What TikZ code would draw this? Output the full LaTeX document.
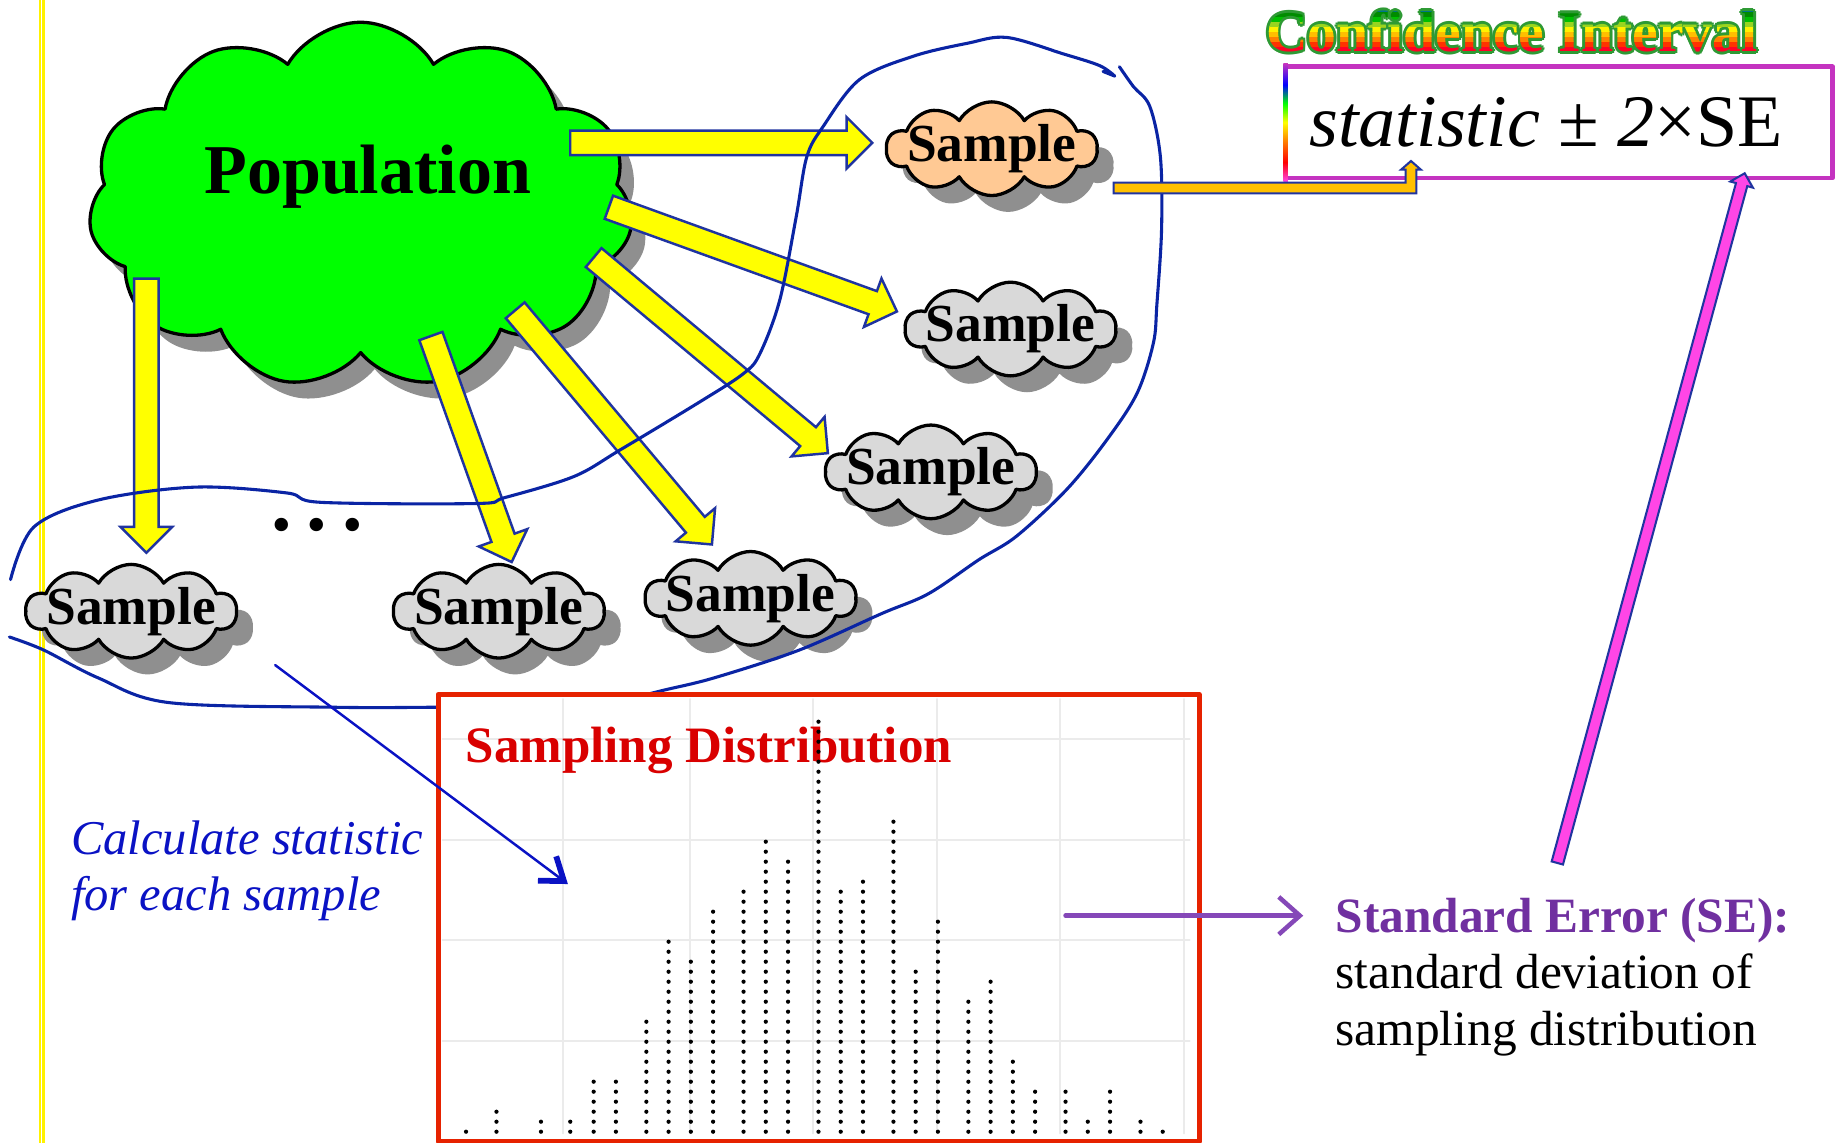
\documentclass[tikz,border=0pt]{standalone}
\usepackage{fontspec}
\setmainfont{Liberation Serif}
\usepackage{tikz}
\usetikzlibrary{arrows.meta,calc,shadows,shapes.symbols}
\definecolor{popGreen}{HTML}{00FF00}
\definecolor{sampleGray}{HTML}{D9D9D9}
\definecolor{samplePeach}{HTML}{FFC994}
\definecolor{cloudShadow}{HTML}{8F8F8F}
\definecolor{arrowYellow}{HTML}{FFFF00}
\definecolor{arrowEdge}{HTML}{2034A0}
\definecolor{loopBlue}{HTML}{0A24A4}
\definecolor{boxRed}{HTML}{E62200}
\definecolor{titleRed}{HTML}{D90000}
\definecolor{noteBlue}{HTML}{0A12C4}
\definecolor{sePurple}{HTML}{7030A0}
\definecolor{seArrow}{HTML}{8548B8}
\definecolor{ciMagenta}{HTML}{C433C0}
\definecolor{ciPink}{HTML}{FF46E6}
\definecolor{ciGold}{HTML}{FFC000}
\definecolor{ciGreen}{HTML}{2E9A34}
\definecolor{gridGray}{HTML}{EBEBEB}

\newcommand\popFont{\fontsize{17}{20}\selectfont\bfseries}
\newcommand\sampleFont{\fontsize{13}{15}\selectfont\bfseries}
\newcommand\ciFont{\fontsize{14}{16}\selectfont\bfseries}

% rainbow for the left edge of the interval box
\pgfdeclareverticalshading{edgeRainbow}{100bp}{color(0bp)=(ciPink); color(25bp)=(ciPink); color(33bp)=(red); color(42bp)=(orange); color(50bp)=(yellow); color(58bp)=(green); color(66bp)=(blue); color(75bp)=(ciMagenta); color(100bp)=(ciMagenta)}

\tikzset{
  sd diagram/.style={x=1cm, y=-1cm, line cap=round, line join=round},
  sd cloud/.style={cloud, cloud ignores aspect, draw=black, line width=0.8pt, inner sep=0pt},
  sd pop/.style={sd cloud, cloud puffs=11, cloud puff arc=120, fill=popGreen,
    minimum width=4.65cm, minimum height=3.13cm,
    drop shadow={shadow xshift=0.12cm, shadow yshift=-0.14cm, fill=cloudShadow, opacity=1}},
  sd sample/.style={sd cloud, cloud puffs=10, cloud puff arc=120, fill=sampleGray,
    minimum width=1.80cm, minimum height=0.80cm, font=\sampleFont,
    drop shadow={shadow xshift=0.14cm, shadow yshift=-0.14cm, fill=cloudShadow, opacity=1}},
  sd key sample/.style={sd sample, fill=samplePeach},
  block arrow/.style n args={3}{to path={
    let \p1=($(\tikztotarget)-(\tikztostart)$), \n1={atan2(\y1,\x1)} in
    ($(\tikztostart)+(\n1+90:#1)$)
    -- ($(\tikztotarget)+(\n1+180:#3)+(\n1+90:#1)$)
    -- ($(\tikztotarget)+(\n1+180:#3)+(\n1+90:#2)$)
    -- (\tikztotarget)
    -- ($(\tikztotarget)+(\n1+180:#3)+(\n1-90:#2)$)
    -- ($(\tikztotarget)+(\n1+180:#3)+(\n1-90:#1)$)
    -- ($(\tikztostart)+(\n1-90:#1)$) -- cycle}},
  sd block/.style={block arrow={0.105cm}{0.22cm}{0.22cm}, draw=arrowEdge,
    fill=arrowYellow, line width=0.6pt, line join=miter},
  sd se block/.style={block arrow={0.05cm}{0.10cm}{0.10cm}, draw=arrowEdge,
    fill=ciPink, line width=0.5pt, line join=miter},
  sd bent/.style={draw=arrowEdge, fill=ciGold, line width=0.5pt, line join=miter},
  sd loop/.style={draw=loopBlue, line width=0.75pt},
  sd grid/.style={draw=gridGray, line width=0.5pt},
  sd title/.style={font=\ciFont, text=ciGreen, inner sep=0pt}
}

\begin{document}
\begin{tikzpicture}[sd diagram]
\useasboundingbox (0,0) rectangle (15.68,9.76);
\draw[yellow, line width=0.55pt, double=white, double distance=0.35pt] (0.355,0) -- (0.355,9.76);

% population and the samples drawn from it
\node[sd pop] (pop) at (3.08,1.755) {};
\node[font=\popFont, inner sep=0pt] (poptitle) at (3.14,1.51) {Population};

\coordinate (t1) at (4.87,1.22); \coordinate (h1) at (7.45,1.22);
\coordinate (t2) at (5.20,1.77); \coordinate (h2) at (7.66,2.66);
\coordinate (t3) at (5.07,2.20); \coordinate (h3) at (7.07,3.87);
\coordinate (t4) at (4.40,2.65); \coordinate (h4) at (6.08,4.65);
\coordinate (t5) at (3.68,2.87); \coordinate (h5) at (4.37,4.80);
\coordinate (t6) at (1.25,2.38); \coordinate (h6) at (1.25,4.72);
\foreach \t/\h in {t1/h1,t2/h2,t3/h3,t4/h4,t5/h5,t6/h6}
  \draw[sd block] (\t) to (\h);

\node[sd key sample] (s1) at (8.47,1.27) {\makebox[0pt]{Sample}};
\node[sd sample] (s2) at (8.63,2.81) {\makebox[0pt]{Sample}};
\node[sd sample] (s3) at (7.95,4.03) {\makebox[0pt]{Sample}};
\node[sd sample] (s4) at (6.41,5.11) {\makebox[0pt]{Sample}};
\node[sd sample] (s5) at (4.26,5.22) {\makebox[0pt]{Sample}};
\node[sd sample] (s6) at (1.12,5.22) {\makebox[0pt]{Sample}};
\node[font=\fontsize{20}{22}\selectfont\bfseries] (more) at (2.71,4.48) {.\hspace{0.18em}.\hspace{0.18em}.};

% hand drawn loop round the samples
\draw[sd loop] plot[smooth, tension=0.55] coordinates {(9.56,0.57) (9.68,0.74) (9.82,0.91)
  (9.91,1.34) (9.92,1.96) (9.88,2.60) (9.85,2.93) (9.71,3.36) (9.45,3.76) (9.11,4.18)
  (8.68,4.58) (8.36,4.78) (7.93,5.07) (7.53,5.24) (6.83,5.55) (6.13,5.78) (5.73,5.88)
  (5.20,5.99) (4.40,6.03) (3.70,6.04) (2.85,6.04) (1.44,6.00) (0.84,5.79) (0.37,5.55) (0.08,5.44)};
\draw[sd loop] plot[smooth, tension=0.55] coordinates {(0.09,4.95) (0.29,4.50) (0.84,4.27)
  (1.67,4.16) (2.45,4.21) (2.74,4.29) (4.07,4.30) (4.31,4.25) (4.90,4.07) (5.30,3.84)
  (5.98,3.43) (6.35,3.19) (6.49,3.02) (6.66,2.56) (6.80,1.85) (6.89,1.34) (7.03,1.08)
  (7.34,0.68) (7.80,0.48) (8.26,0.37) (8.60,0.32) (9.08,0.46) (9.39,0.56) (9.52,0.65)} -- (9.42,0.61);

% dot plot of the statistics
\node[draw=boxRed, line width=1.2pt, fill=white, minimum width=6.50cm, minimum height=3.82cm,
  inner sep=0pt, anchor=north west] (dist) at (3.72,5.91) {};
\foreach \x in {4.81,5.89,6.94,8.00,9.05,10.11}
  \draw[sd grid] (\x,5.97) -- (\x,9.68);
\foreach \y in {6.31,7.17,8.03,8.89}
  \draw[sd grid] (3.78,\y) -- (10.16,\y);
\node[font=\fontsize{12.4}{15}\selectfont\bfseries, text=titleRed, anchor=base west, inner sep=0pt]
  (disttitle) at (3.97,6.51) {Sampling Distribution};
\foreach \x/\n in {3.98/1,4.24/3,4.62/2,4.87/2,5.07/6,5.26/6,5.52/12,5.71/20,5.90/18,6.09/23,
    6.35/25,6.54/30,6.73/28,6.99/42,7.18/25,7.37/26,7.63/32,7.82/17,8.01/22,8.27/14,8.46/16,
    8.65/8,8.84/5,9.10/5,9.29/2,9.48/5,9.74/2,9.93/1}
  \foreach \k in {1,...,\n}
    \fill (\x,{9.665-0.0854*(\k-1)}) circle (0.018cm);

\node[anchor=north west, align=left, inner sep=0pt, text=noteBlue,
  font=\fontsize{11.8}{13.7}\selectfont\itshape] (calc) at (0.60,7.00) {Calculate statistic\\for each sample};
\coordinate (calcfrom) at (2.35,5.68); \coordinate (calcto) at (4.85,7.55);
\draw[noteBlue, line width=0.6pt, -{Straight Barb[length=1.8mm, width=2.6mm, line width=1.4pt]}] (calcfrom) -- (calcto);

\coordinate (sefrom) at (9.10,7.82); \coordinate (seto) at (11.13,7.82);
\draw[seArrow, line width=1.1pt, -{Straight Barb[length=1.8mm, width=3.2mm]}] (sefrom) -- (seto);
\node[anchor=north west, align=left, inner sep=0pt, font=\fontsize{12}{13.8}\selectfont]
  (setext) at (11.40,7.66) {\textcolor{sePurple}{\textbf{Standard Error (SE):}}\\standard deviation of\\sampling distribution};

% confidence interval
\node[draw=ciMagenta, line width=1.1pt, fill=white, minimum width=4.67cm, minimum height=0.95cm,
  inner sep=0pt, font=\fontsize{18}{20}\selectfont] (ci) at (13.315,1.045) {\textit{statistic} ± \textit{2}×SE\hspace*{0.22cm}};
\shade[shading=edgeRainbow] ([yshift=0.2pt]ci.north west) rectangle ([xshift=1.1pt, yshift=-0.2pt]ci.south west);
\node[sd title] (cititle) at (12.91,0.27) {Confidence Interval};
\foreach \a in {0,45,...,315}
  \node[sd title] at ([shift={(\a:0.7pt)}]cititle.center) {Confidence Interval};
\foreach \c [count=\i] in {magenta!55!red, red!85!magenta, red!60!orange, orange, orange!50!yellow,
    yellow, yellow!60!green, green!75!black, green!55!black, green!45!blue} {
  \begin{scope}
    \clip ($([xshift=-3pt, yshift=-1pt]cititle.south west)!{(\i-1)/10}!([xshift=-3pt, yshift=1pt]cititle.north west)$)
      rectangle ($([xshift=3pt, yshift=-1pt]cititle.south east)!{\i/10}!([xshift=3pt, yshift=1pt]cititle.north east)$);
    \node[sd title, text=\c] at (cititle.center) {Confidence Interval};
  \end{scope}
}

\coordinate (cifrom) at (9.51,1.605); \coordinate (cito) at (12.05,1.375);
\draw[sd bent] let \p1=(cifrom), \p2=(cito) in
  (\x1,\y1-1.3pt) -- (\x2+1.3pt,\y1-1.3pt) -- (\x2+1.3pt,\y2-2.1pt) -- (\x2+2.4pt,\y2-2.1pt)
  -- (\x2,\y2) -- (\x2-2.4pt,\y2-2.1pt) -- (\x2-1.3pt,\y2-2.1pt) -- (\x2-1.3pt,\y1+1.3pt)
  -- (\x1,\y1+1.3pt) -- cycle;
\coordinate (setail) at (13.30,7.37); \coordinate (setip) at (14.90,1.48);
\draw[sd se block] (setail) to (setip);
\end{tikzpicture}
\end{document}
